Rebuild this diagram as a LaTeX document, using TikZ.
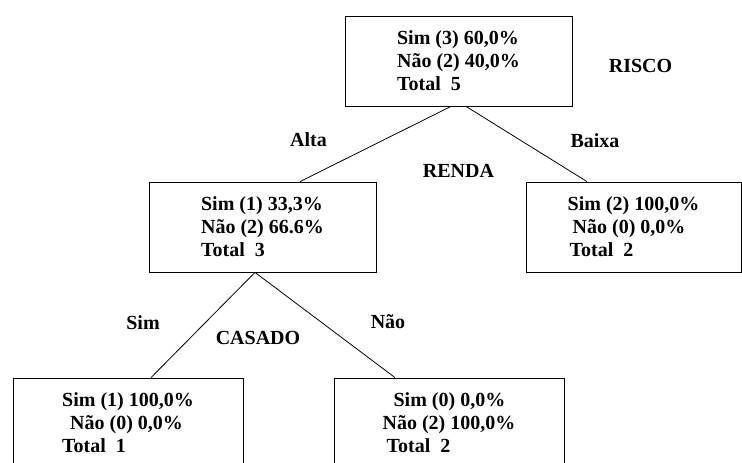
\documentclass[tikz,border=0pt]{standalone}
\usepackage{fontspec}
\setmainfont{Liberation Serif}
\usepackage{tikz}
\usetikzlibrary{positioning}

\tikzset{
  noarvore/.style={draw,line width=0.8pt,align=left,inner sep=0pt,minimum height=90pt,
    font=\fontsize{20}{23}\selectfont\bfseries},
  rotulo/.style={inner sep=0pt,font=\fontsize{20}{23}\selectfont\bfseries},
  ramo/.style={line width=0.8pt}
}

\begin{document}
\begin{tikzpicture}[x=1pt,y=-1pt]
\useasboundingbox (0,0) rectangle (742,463);
\clip (0,0) rectangle (742,463);

% nos da arvore
\node[noarvore,minimum width=227pt] (raiz) at (458.5,61) {Sim (3) 60,0\%\\Não (2) 40,0\%\\Total\ \ 5};
\node[noarvore,minimum width=227pt] (alta) at (262.5,227) {Sim (1) 33,3\%\\Não (2) 66.6\%\\Total\ \ 3};
\node[noarvore,minimum width=215pt] (baixa) at (633.5,227) {Sim (2) 100,0\%\\\hspace*{5pt}Não (0) 0,0\%\\\hspace*{2pt}Total\ \ 2};
\node[noarvore,minimum width=230pt] (casSim) at (128,423) {Sim (1) 100,0\%\\\hspace*{8pt}Não (0) 0,0\%\\Total\ \ 1};
\node[noarvore,minimum width=230pt] (casNao) at (449,423) {\hspace*{11pt}Sim (0) 0,0\%\\Não (2) 100,0\%\\\hspace*{4pt}Total\ \ 2};

% rotulos
\node[rotulo] (risco) at (640.5,66) {RISCO};
\node[rotulo] (renda) at (458.5,171) {RENDA};
\node[rotulo] (casado) at (258,337.5) {CASADO};
\node[rotulo] (lbAlta) at (308.5,140) {Alta};
\node[rotulo] (lbBaixa) at (595,140.5) {Baixa};
\node[rotulo] (lbSim) at (143,322.5) {Sim};
\node[rotulo] (lbNao) at (388,322) {Não};

% ramos
\draw[ramo] ([xshift=-7.5pt]raiz.south) -- ([xshift=37.5pt]alta.north);
\draw[ramo] ([xshift=7.5pt]raiz.south) -- ([xshift=-46.5pt]baixa.north);
\draw[ramo] ([xshift=-7.5pt]alta.south) -- ([xshift=23pt]casSim.north);
\draw[ramo] ([xshift=-7.5pt]alta.south) -- ([xshift=-54pt]casNao.north);
\end{tikzpicture}
\end{document}
